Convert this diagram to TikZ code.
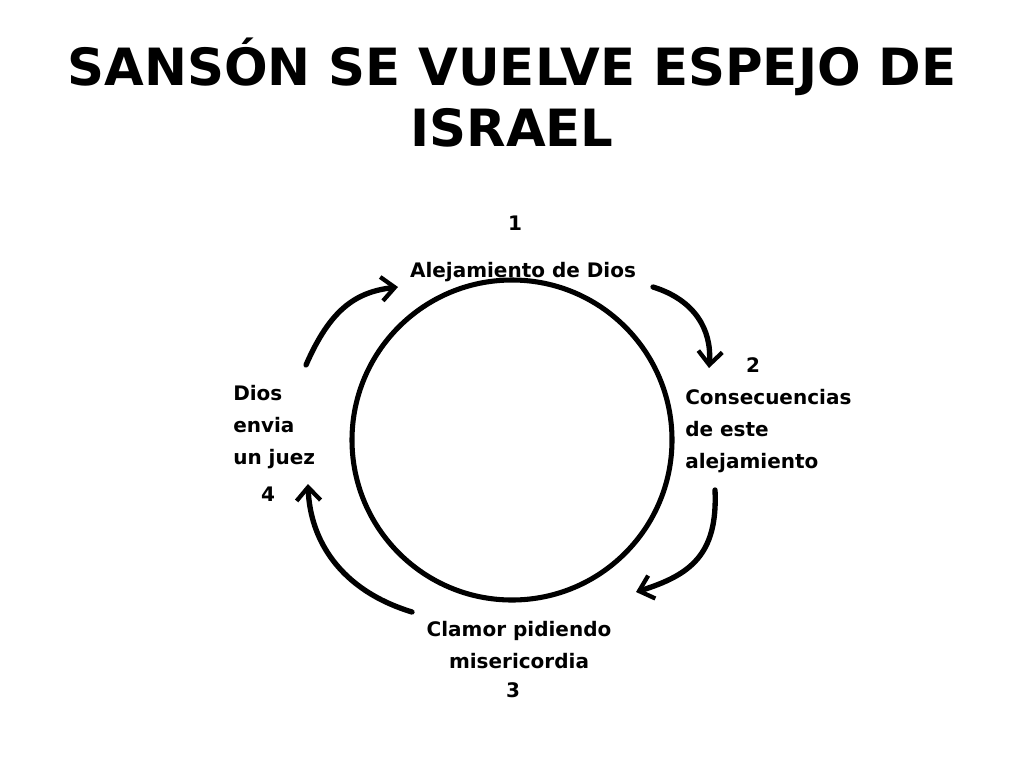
\documentclass[tikz,border=0pt]{standalone}
\usepackage{fontspec}
\setmainfont{DejaVu Sans}
\usetikzlibrary{arrows.meta}
\begin{document}
\begin{tikzpicture}[x=0.75pt,y=-0.75pt,
  lbl/.style={font=\bfseries\fontsize{15}{24}\selectfont, inner sep=0pt},
  ttl/.style={font=\bfseries\fontsize{38.5}{44}\selectfont, inner sep=0pt},
  cyc/.style={line width=4pt, line cap=round, -{Straight Barb[length=10pt,width=18pt,line width=3.2pt]}}]
\useasboundingbox[fill=white] (0,0) rectangle (1024,768);
\node[ttl] (t1) at (512,67) {SANSÓN SE VUELVE ESPEJO DE};
\node[ttl] (t2) at (512,128) {ISRAEL};
\draw[line width=3.8pt] (512,440) circle[radius=160] coordinate (c);
\node[lbl] (n1) at (515,223) {1};
\node[lbl] (a1) at (523,272) {Alejamiento de Dios};
\node[lbl] (n2) at (753,365) {2};
\node[lbl,anchor=west,align=left] (a2) at (685,431) {Consecuencias\\de este\\alejamiento};
\node[lbl,anchor=west,align=left] (a4) at (233,427) {Dios\\envia\\un juez};
\node[lbl] (n4) at (268,494) {4};
\node[lbl,align=center] (a3) at (519,645) {Clamor pidiendo\\misericordia};
\node[lbl] (n3) at (513,690) {3};
\coordinate (s1) at (653,287); \coordinate (e1) at (709,368);
\coordinate (s2) at (715,490); \coordinate (e2) at (636,592);
\coordinate (s3) at (412,612); \coordinate (e3) at (308,484);
\coordinate (s4) at (306,365); \coordinate (e4) at (398,287);
\draw[cyc] (s1) .. controls (695,300) and (712,330) .. (e1);
\draw[cyc] (s2) .. controls (718,555) and (690,575) .. (e2);
\draw[cyc] (s3) .. controls (340,590) and (310,540) .. (e3);
\draw[cyc] (s4) .. controls (330,310) and (355,292) .. (e4);
\end{tikzpicture}
\end{document}
